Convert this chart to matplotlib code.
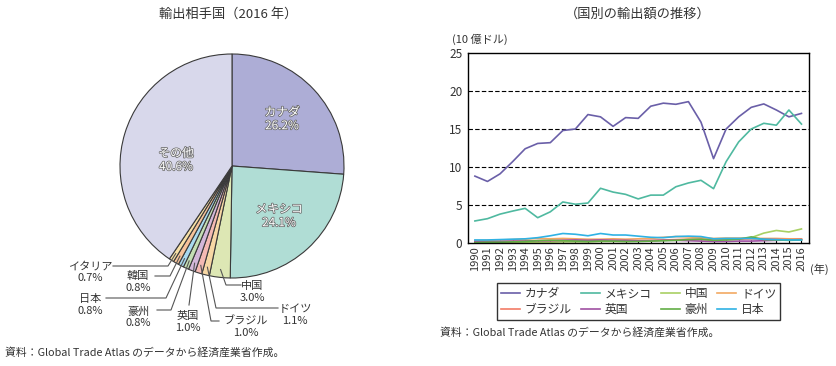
import matplotlib
matplotlib.use("Agg")
import matplotlib.pyplot as plt
import matplotlib.patheffects as pe
import numpy as np

plt.rcParams['font.family'] = ['Noto Sans CJK JP', 'DejaVu Sans']

# ---------------- data ----------------
pie_labels = ["カナダ", "メキシコ", "中国", "ドイツ", "ブラジル", "英国", "豪州", "日本", "韓国", "イタリア", "その他"]
pie_values = [26.2, 24.1, 3.0, 1.1, 1.0, 1.0, 0.8, 0.8, 0.8, 0.7, 40.6]
pie_colors = ["#adadd6", "#b0ddd5", "#dde7b4", "#f7d7a4", "#f4b9b3", "#d3b7d9",
              "#c4dfb4", "#a9d9ef", "#f6c39a", "#f8e0a6", "#d8d8eb"]

years = list(range(1990, 2017))
canada = [8.8, 8.1, 9.1, 10.7, 12.4, 13.1, 13.2, 14.8, 15.0, 16.9, 16.6, 15.35, 16.5, 16.4,
          18.0, 18.4, 18.25, 18.6, 15.9, 11.1, 15.0, 16.6, 17.85, 18.3, 17.5, 16.6, 17.05]
mexico = [2.9, 3.2, 3.8, 4.2, 4.56, 3.33, 4.1, 5.4, 5.1, 5.26, 7.2, 6.7, 6.4, 5.8,
          6.3, 6.3, 7.4, 7.9, 8.25, 7.15, 10.7, 13.3, 15.0, 15.75, 15.5, 17.5, 15.65]
china = [0.05, 0.05, 0.05, 0.1, 0.1, 0.1, 0.1, 0.15, 0.15, 0.15, 0.2, 0.2, 0.2, 0.25,
         0.3, 0.35, 0.4, 0.45, 0.45, 0.45, 0.5, 0.55, 0.7, 1.3, 1.65, 1.45, 1.85]
germany = [0.3, 0.35, 0.4, 0.45, 0.5, 0.6, 0.55, 0.6, 0.55, 0.5, 0.5, 0.55, 0.5, 0.55,
           0.6, 0.75, 0.85, 0.8, 0.7, 0.6, 0.65, 0.65, 0.6, 0.6, 0.6, 0.55, 0.55]
brazil = [0.15, 0.15, 0.2, 0.2, 0.25, 0.3, 0.3, 0.35, 0.35, 0.3, 0.35, 0.35, 0.3, 0.3,
          0.35, 0.4, 0.45, 0.5, 0.5, 0.4, 0.45, 0.5, 0.55, 0.55, 0.5, 0.45, 0.45]
uk = [0.2, 0.2, 0.2, 0.25, 0.25, 0.3, 0.3, 0.35, 0.4, 0.35, 0.4, 0.35, 0.35, 0.3,
      0.3, 0.35, 0.35, 0.3, 0.25, 0.2, 0.2, 0.25, 0.25, 0.3, 0.35, 0.4, 0.45]
australia = [0.05, 0.1, 0.1, 0.15, 0.2, 0.3, 0.35, 0.3, 0.25, 0.2, 0.25, 0.25, 0.2, 0.2,
             0.25, 0.3, 0.35, 0.45, 0.5, 0.35, 0.4, 0.5, 0.8, 0.45, 0.4, 0.35, 0.4]
japan = [0.4, 0.4, 0.45, 0.5, 0.55, 0.7, 0.95, 1.25, 1.15, 0.95, 1.25, 1.05, 1.05, 0.9,
         0.75, 0.7, 0.85, 0.9, 0.85, 0.55, 0.6, 0.6, 0.6, 0.5, 0.45, 0.4, 0.4]

series_names = ["カナダ", "メキシコ", "中国", "ドイツ", "ブラジル", "英国", "豪州", "日本"]
series_colors = ["#6a5fa8", "#4fb9a0", "#a9d064", "#f2a962", "#f27c66", "#a050a2", "#62ae45", "#2fb2e4"]
series_data = [canada, mexico, china, germany, brazil, uk, australia, japan]

W, H = 836, 366
fig = plt.figure(figsize=(W / 100, H / 100), dpi=100)
TXT = "#333333"

def fx(px):
    return px / W

def fy(py):
    return 1 - py / H

# ---------------- pie ----------------
cx, cy, R = 232, 166, 112
half = 125
axp = fig.add_axes([fx(cx - half), fy(cy + half), 2 * half / W, 2 * half / H])
wedges, _ = axp.pie(pie_values, colors=pie_colors, startangle=90, counterclock=False,
                    radius=1.0, wedgeprops=dict(edgecolor="#3a3a3a", linewidth=0.8))
lim = half / R
axp.set_xlim(-lim, lim)
axp.set_ylim(-lim, lim)
axp.set_aspect("auto")
axp.axis("off")

def d(px, py):
    return ((px - cx) / R, (cy - py) / R)

outline = [pe.withStroke(linewidth=1.1, foreground="#6a6a6a")]
inside = {0: (282, 119), 1: (279, 216), 10: (176, 160)}
for i, (px, py) in inside.items():
    x, y = d(px, py)
    axp.text(x, y, f"{pie_labels[i]}\n{pie_values[i]:.1f}%", ha="center", va="center",
             fontsize=8.5, color="white", linespacing=1.05, path_effects=outline)

# outside labels: (text center px, py), elbow point px, end point px
outside = {
    2: ((252, 292), (226, 285), (241, 285)),
    3: ((295, 315), (216, 308), (278, 308)),
    4: ((246, 327), (211, 321), (219, 321)),
    5: ((188, 322), (189, 305), (189, 305)),
    6: ((138, 317), (171, 310), (157, 310)),
    7: ((90, 305), (166, 298), (106, 298)),
    8: ((138, 282), (170, 276), (155, 276)),
    9: ((90, 272), (168, 266), (113, 266)),
}
cum = np.cumsum([0] + pie_values)
tot = cum[-1]
for i, ((tx, ty), elbow, end) in outside.items():
    mid = (cum[i] + cum[i + 1]) / 2 / tot
    ang = np.deg2rad(90 - 360 * mid)
    sx, sy = 0.93 * np.cos(ang), 0.93 * np.sin(ang)
    ex, ey = d(*elbow)
    nx, ny = d(*end)
    axp.plot([sx, ex, nx], [sy, ey, ny], color="#555555", lw=0.8, clip_on=False,
             solid_joinstyle="miter")
    x, y = d(tx, ty)
    axp.text(x, y, f"{pie_labels[i]}\n{pie_values[i]:.1f}%", ha="center", va="center",
             fontsize=8, color=TXT, linespacing=1.15)

fig.text(fx(228), fy(14), "輸出相手国（2016 年）", ha="center", va="center", fontsize=9.5, color=TXT)
fig.text(fx(5), fy(352), "資料：Global Trade Atlas のデータから経済産業省作成。", ha="left", va="center",
         fontsize=7.8, color=TXT)

# ---------------- line chart ----------------
L, Rr, T, B = 468, 809, 53, 243
axl = fig.add_axes([fx(L), fy(B), (Rr - L) / W, (B - T) / H])
for name, col, vals in zip(series_names, series_colors, series_data):
    axl.plot(years, vals, color=col, lw=1.2, label=name)
axl.set_xlim(1989.45, 2016.6)
axl.set_ylim(0, 25)
axl.set_yticks([0, 5, 10, 15, 20, 25])
axl.set_xticks(years)
axl.set_xticklabels([str(y) for y in years], rotation=90, fontsize=8, color=TXT)
axl.tick_params(axis="x", direction="in", length=2.5, width=0.8, pad=2)
axl.tick_params(axis="y", length=0, labelsize=8.5, labelcolor=TXT, pad=4)
for v in [5, 10, 15, 20]:
    axl.axhline(v, color="black", lw=0.8, ls=(0, (4, 2)), zorder=0)
for s in axl.spines.values():
    s.set_color("black")
    s.set_linewidth(1.0)

fig.text(fx(638), fy(14), "（国別の輸出額の推移）", ha="center", va="center", fontsize=9.5, color=TXT)
fig.text(fx(452), fy(39), "(10 億ドル)", ha="left", va="center", fontsize=8, color=TXT)
fig.text(fx(810), fy(269), "(年)", ha="left", va="center", fontsize=8, color=TXT)

handles, labels = axl.get_legend_handles_labels()
order = [0, 4, 1, 5, 2, 6, 3, 7]
leg = fig.legend([handles[k] for k in order], [labels[k] for k in order], ncol=4,
                 loc="center", bbox_to_anchor=(fx(638.5), fy(301.5)), fontsize=8.5,
                 frameon=True, fancybox=False, edgecolor="black", handlelength=1.6,
                 handletextpad=0.4, columnspacing=0.8, labelspacing=0.25, borderpad=0.35)
leg.get_frame().set_linewidth(1.0)
for t in leg.get_texts():
    t.set_color(TXT)

fig.text(fx(440), fy(332), "資料：Global Trade Atlas のデータから経済産業省作成。", ha="left", va="center",
         fontsize=7.8, color=TXT)

fig.savefig("out.png", dpi=100)
